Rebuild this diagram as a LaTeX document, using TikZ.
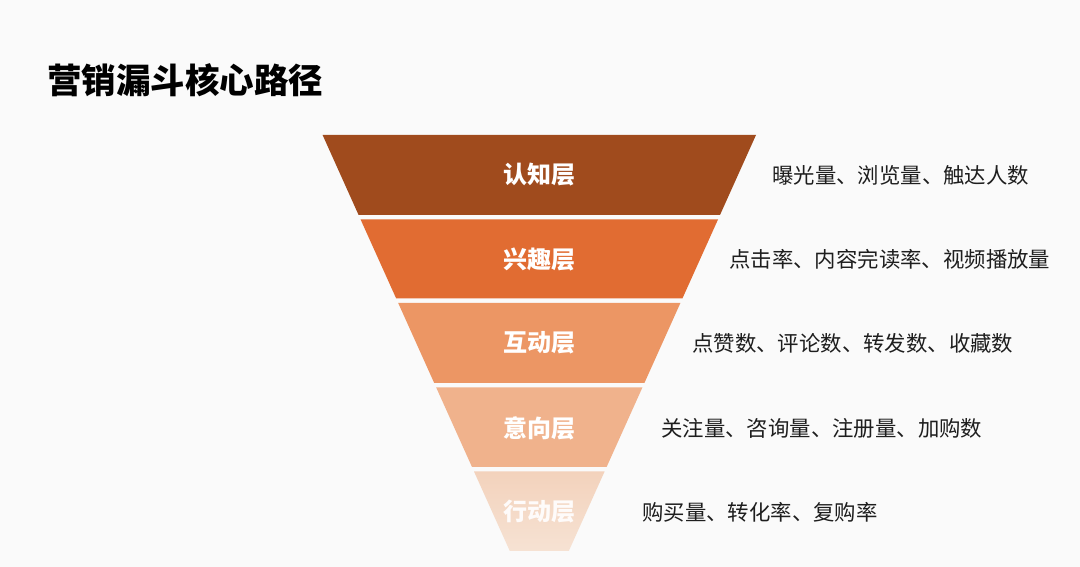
\documentclass[tikz,border=0pt]{standalone}
\usepackage{fontspec}
\newfontfamily\cjk{Noto Sans CJK SC}
\usetikzlibrary{positioning}
\definecolor{bgc}{HTML}{FAFAFA}
\definecolor{cA}{HTML}{A04B1D}
\definecolor{cB}{HTML}{E16C32}
\definecolor{cC}{HTML}{EC9664}
\definecolor{cD}{HTML}{F0B28C}
\definecolor{cE}{HTML}{F3D2BC}
\definecolor{cEb}{HTML}{F6E2D3}
\definecolor{txt}{HTML}{1E1E1E}
\tikzset{
  layer/.style={white, font=\cjk\bfseries\fontsize{24}{24}\selectfont, inner sep=0pt},
  metric/.style={txt, font=\cjk\fontsize{21.4}{21.4}\selectfont, anchor=west, inner sep=0pt},
  ttl/.style={black, font=\cjk\bfseries\fontsize{34.5}{34.5}\selectfont, anchor=west, inner sep=0pt}
}
\begin{document}
\begin{tikzpicture}[x=1pt,y=1pt]
\fill[bgc] (0,0) rectangle (1080,567);
\useasboundingbox (0,0) rectangle (1080,567);
% funnel layers
\fill[cA] (322.6,432) -- (756,432) -- (720,352) -- (358.6,352) -- cycle;
\fill[cB] (360.6,347.5) -- (718,347.5) -- (682.4,268.5) -- (396.2,268.5) -- cycle;
\fill[cC] (398.2,264) -- (680.4,264) -- (644.4,184) -- (434.2,184) -- cycle;
\fill[cD] (436.2,179.5) -- (642.4,179.5) -- (606.6,100) -- (472,100) -- cycle;
\shade[top color=cE, bottom color=cEb] (474,95.5) -- (604.6,95.5) -- (568.8,16) -- (509.8,16) -- cycle;
% title
\node[ttl] (title) at (47,487) {营销漏斗核心路径};
% layer labels
\node[layer] (l1) at (539.3,392) {认知层};
\node[layer] (l2) at (539.3,308) {兴趣层};
\node[layer] (l3) at (539.3,224) {互动层};
\node[layer] (l4) at (539.3,139) {意向层};
\node[layer, text=white!92!cE] (l5) at (539.3,55) {行动层};
% metrics
\node[metric] (m1) at (772,392) {曝光量、浏览量、触达人数};
\node[metric] (m2) at (729,308) {点击率、内容完读率、视频播放量};
\node[metric] (m3) at (692,224) {点赞数、评论数、转发数、收藏数};
\node[metric] (m4) at (661,139) {关注量、咨询量、注册量、加购数};
\node[metric] (m5) at (642,55) {购买量、转化率、复购率};
\end{tikzpicture}
\end{document}
